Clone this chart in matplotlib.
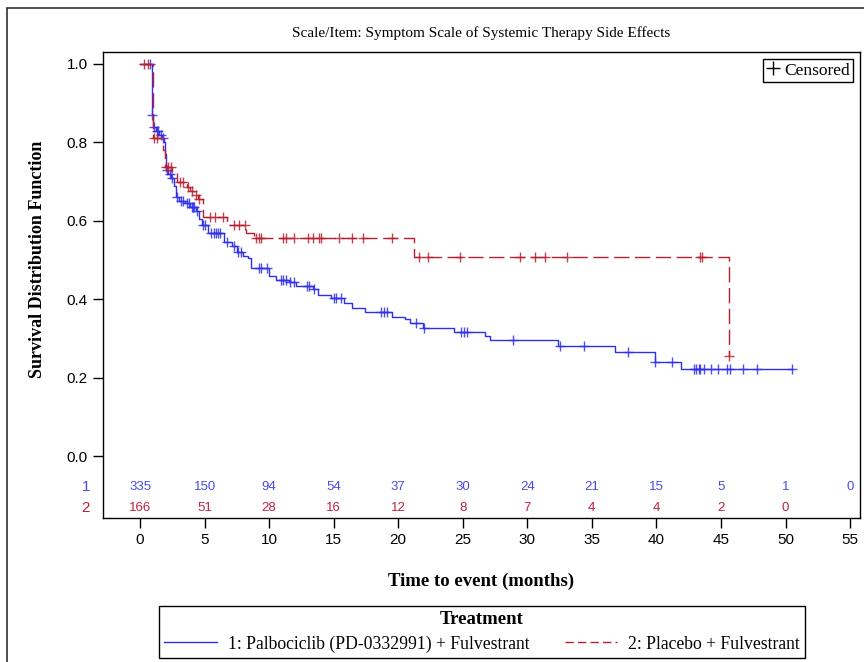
import numpy as np
import matplotlib
matplotlib.use("Agg")
import matplotlib.pyplot as plt
from matplotlib.lines import Line2D
from matplotlib.patches import Rectangle

# Kaplan-Meier steps: time (months) and survival after the drop
arm1_times = [0, 0.9, 1.0, 1.2, 1.5, 1.7, 1.85, 1.9, 2.0, 2.2, 2.4, 2.6, 2.8, 3.0, 3.5,
              3.9, 4.3, 4.6, 4.8, 5.3, 6.5, 7.1, 7.5, 8.0, 8.4, 8.6, 10.0, 10.5, 11.5,
              12.1, 13.4, 13.8, 14.8, 15.8, 16.4, 17.4, 19.5, 20.5, 20.9, 21.9, 24.3,
              26.7, 27.1, 32.4, 36.8, 39.9, 41.9]
arm1_surv = [1.0, 0.87, 0.84, 0.83, 0.82, 0.81, 0.80, 0.77, 0.73, 0.72, 0.71, 0.69, 0.66,
             0.65, 0.645, 0.635, 0.625, 0.605, 0.59, 0.57, 0.545, 0.535, 0.52, 0.51,
             0.505, 0.48, 0.46, 0.45, 0.443, 0.433, 0.425, 0.41, 0.403, 0.39, 0.378,
             0.367, 0.355, 0.35, 0.34, 0.327, 0.316, 0.306, 0.296, 0.28, 0.265, 0.24,
             0.222]
arm1_cens = [0.8, 0.95, 1.1, 1.3, 1.4, 1.6, 1.75, 2.1, 2.3, 2.5, 2.9, 3.2, 3.3, 3.6, 3.8,
             4.0, 4.1, 4.2, 4.4, 4.9, 5.0, 5.5, 5.7, 5.9, 6.0, 6.2, 6.7, 7.3, 7.6, 7.8,
             9.2, 9.4, 9.8, 10.9, 11.1, 11.3, 11.6, 11.9, 12.9, 13.1, 13.5, 15.0, 15.2,
             15.6, 18.7, 18.9, 19.1, 21.4, 22.0, 24.9, 25.1, 25.3, 28.9, 32.5, 34.4,
             37.8, 39.9, 41.2, 42.9, 43.1, 43.3, 43.4, 43.7, 44.2, 44.8, 45.5, 45.7,
             46.7, 47.8, 50.5]

arm2_times = [0, 1.0, 1.8, 1.9, 2.5, 2.9, 3.6, 3.9, 4.2, 4.5, 4.9, 6.7, 8.2, 8.8, 21.2, 45.6]
arm2_surv = [1.0, 0.81, 0.78, 0.737, 0.725, 0.70, 0.686, 0.675, 0.665, 0.655, 0.61, 0.59,
             0.57, 0.555, 0.508, 0.255]
arm2_cens = [0.3, 0.6, 1.1, 1.3, 2.0, 2.2, 2.4, 3.1, 3.3, 3.7, 4.0, 4.3, 4.6, 5.4, 5.8,
             6.4, 7.3, 7.7, 8.1, 9.0, 9.2, 9.4, 11.1, 11.3, 11.9, 13.0, 13.4, 13.9, 14.0,
             15.4, 16.4, 17.3, 19.5, 21.6, 22.3, 24.8, 29.4, 30.6, 31.4, 33.1, 43.4,
             43.5, 45.6]

risk_times = [0, 5, 10, 15, 20, 25, 30, 35, 40, 45, 50, 55]
risk_arm1 = [335, 150, 94, 54, 37, 30, 24, 21, 15, 5, 1, 0]
risk_arm2 = [166, 51, 28, 16, 12, 8, 7, 4, 4, 2, 0]

blue = "#3030e8"
red = "#b8202f"
serif = ["Liberation Serif", "DejaVu Serif"]
sans = ["Liberation Sans", "DejaVu Sans"]


def km_value(times, surv, t):
    i = np.searchsorted(times, t, side="right") - 1
    return np.asarray(surv)[i]


fig = plt.figure(figsize=(8.64, 6.62), dpi=100)
ax = fig.add_axes([103 / 864, 1 - 518 / 662, 757 / 864, 466 / 662])

# arm 1
end1 = max(arm1_cens)
ax.step(arm1_times + [end1], arm1_surv + [arm1_surv[-1]], where="post", color=blue, lw=1)
ax.plot(arm1_cens, km_value(arm1_times, arm1_surv, arm1_cens), "+", color=blue,
        ms=7, mew=1, alpha=0.85)
# arm 2
end2 = max(arm2_cens)
ax.step(arm2_times + [end2], arm2_surv + [arm2_surv[-1]], where="post", color=red, lw=1,
        dashes=(11, 4))
ax.plot(arm2_cens, km_value(arm2_times, arm2_surv, arm2_cens), "+", color=red,
        ms=7, mew=1, alpha=0.85)

# numbers at risk
for t, n in zip(risk_times, risk_arm1):
    ax.text(t, -0.079, str(n), color="#4a4ae6", ha="center", va="center",
            fontsize=9.5, family=sans)
for t, n in zip(risk_times, risk_arm2):
    ax.text(t, -0.133, str(n), color="#c02040", ha="center", va="center",
            fontsize=9.5, family=sans)
ax.text(-4.2, -0.079, "1", color="#4a4ae6", ha="center", va="center", fontsize=11,
        family=sans)
ax.text(-4.2, -0.133, "2", color="#c02040", ha="center", va="center", fontsize=11,
        family=sans)

ax.set_xlim(-2.87, 55.77)
ax.set_ylim(-0.158, 1.0306)
ax.set_xticks(risk_times)
ax.set_yticks([0, 0.2, 0.4, 0.6, 0.8, 1.0])
ax.set_yticklabels(["0.0", "0.2", "0.4", "0.6", "0.8", "1.0"])
ax.tick_params(direction="out", length=7, width=1, labelsize=11, pad=4)
for lab in ax.get_xticklabels() + ax.get_yticklabels():
    lab.set_family(sans)
for s in ax.spines.values():
    s.set_linewidth(1)

ax.set_xlabel("Time to event (months)", family=serif, fontsize=13.5, weight="bold",
              labelpad=18)
fig.text(38 / 864, 1 - 259 / 662, "Survival Distribution Function", family=serif,
         fontsize=13, weight="bold", rotation=90, ha="center", va="center")
ax.set_title("Scale/Item: Symptom Scale of Systemic Therapy Side Effects", family=serif,
             fontsize=11, pad=11)

# censored legend
cens_handle = Line2D([], [], marker="+", color="black", ls="none", ms=10, mew=1)
leg1 = ax.legend([cens_handle], ["Censored"], loc="upper right", fancybox=False,
                 edgecolor="black", framealpha=1, borderaxespad=0.4,
                 prop={"family": serif, "size": 12.5}, handlelength=0.7,
                 handletextpad=0.3, borderpad=0.2)
leg1.get_frame().set_linewidth(1)

# treatment legend
h1 = Line2D([], [], color=blue, lw=1)
h2 = Line2D([], [], color=red, lw=1, dashes=(6, 3))
leg2 = fig.legend([h1, h2], ["1: Palbociclib (PD-0332991) + Fulvestrant",
                             "2: Placebo + Fulvestrant"],
                  loc="upper center", bbox_to_anchor=(482 / 864, 1 - 606 / 662), ncol=2,
                  borderaxespad=0, fancybox=False, edgecolor="black", framealpha=1,
                  prop={"family": serif, "size": 12.7}, title="Treatment",
                  title_fontproperties={"family": serif, "size": 13.5, "weight": "bold"},
                  handlelength=3.0, columnspacing=2.0, borderpad=0.3,
                  handletextpad=0.6, labelspacing=0.4)
leg2.get_frame().set_linewidth(1)

# outer frame
fig.patches.append(Rectangle((7 / 864, -0.1), 1.2, 1 - 8 / 662 + 0.1,
                             transform=fig.transFigure, fill=False,
                             edgecolor="#303030", lw=1.2))

fig.savefig("out.png", dpi=100)
